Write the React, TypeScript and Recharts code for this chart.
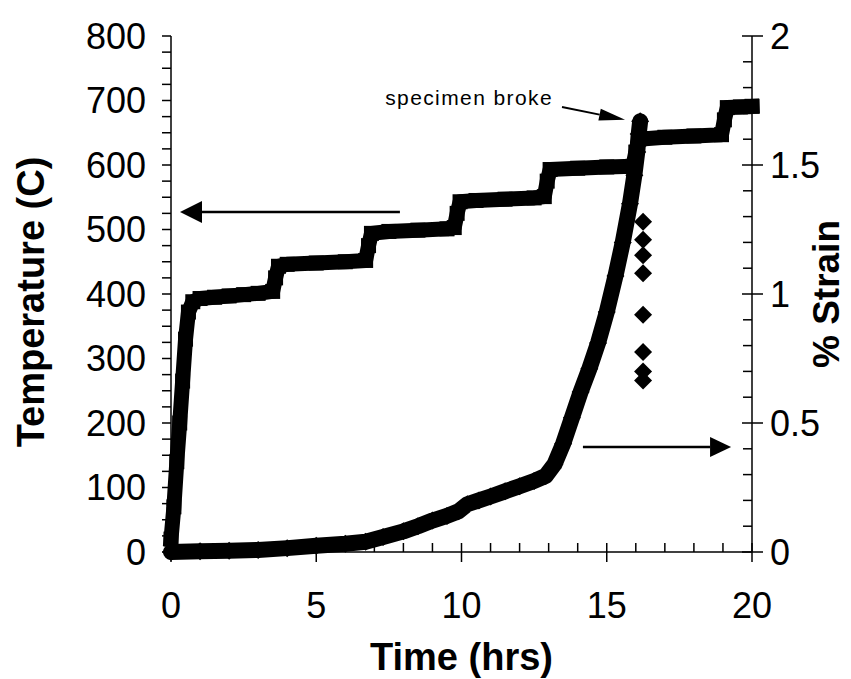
import React from 'react';
import { ComposedChart, Line, Scatter, XAxis, YAxis, ReferenceLine } from 'recharts';

// ---- data ----
const tempTime = [0, 0.1, 0.2, 0.3, 0.4, 0.5, 0.6, 0.75, 1.0, 1.5, 2.0, 2.5, 3.0, 3.5, 3.6, 3.7, 4.0, 5.0, 6.0, 6.7, 6.8, 6.9, 7.5, 8.5, 9.5, 9.75, 9.85, 9.95, 10.5, 11.5, 12.5, 12.85, 12.95, 13.05, 14.0, 15.0, 15.9, 16.0, 16.1, 17.0, 18.0, 18.95, 19.05, 19.15, 19.6, 20.0];
const tempValues = [20, 70, 140, 200, 265, 330, 372, 388, 393, 395, 397, 399, 401, 404, 425, 443, 446, 448, 450, 452, 475, 494, 497, 499, 501, 503, 525, 543, 545, 547, 549, 551, 575, 593, 595, 597, 598, 620, 640, 643, 645, 647, 670, 689, 690, 691];

const strainTime = [0, 1, 2, 3, 4, 5, 6, 6.7, 7.3, 8, 8.5, 9, 9.5, 9.9, 10.2, 10.6, 11, 11.5, 12, 12.5, 12.9, 13.2, 13.5, 13.8, 14.1, 14.4, 14.7, 15.0, 15.3, 15.55, 15.8, 15.95, 16.05, 16.1, 16.15];
const strainValues = [0, 0.003, 0.005, 0.008, 0.015, 0.024, 0.032, 0.04, 0.058, 0.08, 0.1, 0.122, 0.14, 0.158, 0.185, 0.2, 0.215, 0.235, 0.255, 0.275, 0.295, 0.34, 0.42, 0.52, 0.62, 0.71, 0.81, 0.93, 1.07, 1.2, 1.35, 1.46, 1.55, 1.62, 1.67];

const brokeTime = [16.25, 16.25, 16.25, 16.25, 16.25, 16.25, 16.25, 16.25];
const brokeStrain = [1.28, 1.21, 1.15, 1.08, 0.92, 0.775, 0.7, 0.665];

const xTicks = [0, 1, 2, 3, 4, 5, 6, 7, 8, 9, 10, 11, 12, 13, 14, 15, 16, 17, 18, 19, 20];
const xLabels = [0, 5, 10, 15, 20];
const tempTicks = [0, 25, 50, 75, 100, 125, 150, 175, 200, 225, 250, 275, 300, 325, 350, 375, 400, 425, 450, 475, 500, 525, 550, 575, 600, 625, 650, 675, 700, 725, 750, 775, 800];
const tempLabels = [0, 100, 200, 300, 400, 500, 600, 700, 800];
const strainTicks = [0, 0.1, 0.2, 0.3, 0.4, 0.5, 0.6, 0.7, 0.8, 0.9, 1, 1.1, 1.2, 1.3, 1.4, 1.5, 1.6, 1.7, 1.8, 1.9, 2];
const strainLabels = [0, 0.5, 1, 1.5, 2];

// annotation anchors (data units)
const leftArrow = { from: [7.88, 527], to: [0.31, 527] };
const rightArrow = { from: [14.18, 0.407], to: [19.28, 0.407] };
const brokeArrow = { from: [13.46, 690], to: [15.63, 670] };
const brokeText = 'specimen broke';

const tempData = tempTime.map((t, i) => ({ t, temp: tempValues[i] }));
const strainData = strainTime.map((t, i) => ({ t, strain: strainValues[i] }));
const brokeData = brokeTime.map((t, i) => ({ t, strain: brokeStrain[i] }));

// ---- layout ----
const W = 851;
const H = 679;
const PLOT_L = 171;
const PLOT_R = 752;
const PLOT_T = 36;
const PLOT_B = 552;
const FONT = 'Liberation Sans, Arial, Helvetica, sans-serif';

const LeftTick = (props: any) => {
  const { y, payload } = props;
  const v = payload.value;
  const showLabel = tempLabels.includes(v);
  return (
    <g>
      <line x1={PLOT_L - 9} x2={PLOT_L} y1={y} y2={y} stroke="#000" strokeWidth={1.5} />
      {showLabel && (
        <text x={146} y={y} dy="0.36em" textAnchor="end" fontSize={36} fontFamily={FONT} fill="#000">
          {v}
        </text>
      )}
    </g>
  );
};

const RightTick = (props: any) => {
  const { y, payload } = props;
  const v = payload.value;
  const showLabel = strainLabels.some((s) => Math.abs(s - v) < 1e-9);
  return (
    <g>
      <line x1={showLabel ? PLOT_R - 10 : PLOT_R - 9} x2={showLabel ? PLOT_R + 11 : PLOT_R} y1={y} y2={y} stroke="#000" strokeWidth={1.5} />
      {showLabel && (
        <text x={770} y={y} dy="0.36em" textAnchor="start" fontSize={36} fontFamily={FONT} fill="#000">
          {String(v)}
        </text>
      )}
    </g>
  );
};

const BottomTick = (props: any) => {
  const { x, payload } = props;
  const v = payload.value;
  const showLabel = xLabels.includes(v);
  return (
    <g>
      <line x1={x} x2={x} y1={PLOT_B - 9} y2={showLabel ? PLOT_B + 10 : PLOT_B} stroke="#000" strokeWidth={1.5} />
      {showLabel && (
        <text x={x} y={605} dy="0.36em" textAnchor="middle" fontSize={36} fontFamily={FONT} fill="#000">
          {v}
        </text>
      )}
    </g>
  );
};

const SquareDot = (props: any) => {
  const { cx, cy, index } = props;
  if (cx == null || cy == null) return <g key={`sq-${index}`} />;
  const s = 7.5;
  return <rect key={`sq-${index}`} x={cx - s} y={cy - s} width={2 * s} height={2 * s} fill="#000" />;
};

const DiamondDot = (props: any) => {
  const { cx, cy, index } = props;
  if (cx == null || cy == null) return <g key={`dm-${index}`} />;
  const s = 9;
  return (
    <polygon
      key={`dm-${index}`}
      points={`${cx},${cy - s} ${cx + s},${cy} ${cx},${cy + s} ${cx - s},${cy}`}
      fill="#000"
    />
  );
};

const DiamondShape = (props: any) => {
  const { cx, cy } = props;
  const s = 9;
  return <polygon points={`${cx},${cy - s} ${cx + s},${cy} ${cx},${cy + s} ${cx - s},${cy}`} fill="#000" />;
};

const makeArrow = (headLen: number, headHalf: number, width: number, label?: string) => (props: any) => {
  const { x1, y1, x2, y2 } = props;
  if ([x1, y1, x2, y2].some((v) => v == null || Number.isNaN(v))) return <g />;
  const dx = x2 - x1;
  const dy = y2 - y1;
  const len = Math.sqrt(dx * dx + dy * dy) || 1;
  const ux = dx / len;
  const uy = dy / len;
  const bx = x2 - ux * headLen;
  const by = y2 - uy * headLen;
  const px = -uy * headHalf;
  const py = ux * headHalf;
  return (
    <g>
      <line x1={x1} y1={y1} x2={bx} y2={by} stroke="#000" strokeWidth={width} />
      <polygon points={`${x2},${y2} ${bx + px},${by + py} ${bx - px},${by - py}`} fill="#000" />
      {label && (
        <text x={x1 - 9} y={y1 - 2} textAnchor="end" fontSize={21} letterSpacing={1.4} fontFamily={FONT} fill="#000">
          {label}
        </text>
      )}
    </g>
  );
};

const LeftTitle = (props: any) => {
  const vb = props.viewBox || { y: PLOT_T, height: PLOT_B - PLOT_T };
  const cy = vb.y + vb.height / 2 + 8;
  return (
    <text x={30} y={cy} transform={`rotate(-90 30 ${cy})`} textAnchor="middle" dy="0.36em" fontSize={38} fontWeight="bold" fontFamily={FONT} fill="#000">
      Temperature (C)
    </text>
  );
};

const RightTitle = (props: any) => {
  const vb = props.viewBox || { y: PLOT_T, height: PLOT_B - PLOT_T };
  const cy = vb.y + vb.height / 2;
  return (
    <text x={826} y={cy} transform={`rotate(-90 826 ${cy})`} textAnchor="middle" dy="0.36em" fontSize={37} fontWeight="bold" fontFamily={FONT} fill="#000">
      % Strain
    </text>
  );
};

const BottomTitle = (props: any) => {
  const vb = props.viewBox || { x: PLOT_L, width: PLOT_R - PLOT_L };
  const cx = vb.x + vb.width / 2;
  return (
    <text x={cx} y={656} dy="0.36em" textAnchor="middle" fontSize={38} fontWeight="bold" fontFamily={FONT} fill="#000">
      Time (hrs)
    </text>
  );
};

export default function App() {
  return (
    <div style={{ position: 'absolute', left: 0, top: 0, width: W, height: H, background: '#fff' }}>
      <ComposedChart
        width={W}
        height={H}
        margin={{ top: PLOT_T, right: 0, bottom: 0, left: 0 }}
        style={{ fontFamily: FONT }}
      >
        <XAxis
          type="number"
          dataKey="t"
          domain={[0, 20]}
          ticks={xTicks}
          interval={0}
          height={H - PLOT_B}
          tickLine={false}
          axisLine={{ stroke: '#000', strokeWidth: 1.5 }}
          tick={<BottomTick />}
          label={{ content: <BottomTitle /> }}
        />
        <YAxis
          yAxisId="temp"
          orientation="left"
          type="number"
          domain={[0, 800]}
          ticks={tempTicks}
          interval={0}
          width={PLOT_L}
          tickLine={false}
          axisLine={{ stroke: '#000', strokeWidth: 1.5 }}
          tick={<LeftTick />}
          label={{ content: <LeftTitle /> }}
        />
        <YAxis
          yAxisId="strain"
          orientation="right"
          type="number"
          domain={[0, 2]}
          ticks={strainTicks}
          interval={0}
          width={W - PLOT_R}
          tickLine={false}
          axisLine={{ stroke: '#000', strokeWidth: 1.5 }}
          tick={<RightTick />}
          label={{ content: <RightTitle /> }}
        />
        <Line
          yAxisId="temp"
          data={tempData}
          dataKey="temp"
          type="linear"
          stroke="#000"
          strokeWidth={15}
          strokeLinejoin="round"
          strokeLinecap="square"
          dot={<SquareDot />}
          activeDot={false}
          isAnimationActive={false}
        />
        <Line
          yAxisId="strain"
          data={strainData}
          dataKey="strain"
          type="linear"
          stroke="#000"
          strokeWidth={16}
          strokeLinejoin="round"
          strokeLinecap="round"
          dot={<DiamondDot />}
          activeDot={false}
          isAnimationActive={false}
        />
        <Scatter
          yAxisId="strain"
          data={brokeData}
          dataKey="strain"
          shape={<DiamondShape />}
          isAnimationActive={false}
        />
        <ReferenceLine
          yAxisId="temp"
          segment={[{ x: leftArrow.from[0], y: leftArrow.from[1] }, { x: leftArrow.to[0], y: leftArrow.to[1] }]}
          ifOverflow="visible"
          shape={makeArrow(22, 11, 2.5)}
        />
        <ReferenceLine
          yAxisId="strain"
          segment={[{ x: rightArrow.from[0], y: rightArrow.from[1] }, { x: rightArrow.to[0], y: rightArrow.to[1] }]}
          ifOverflow="visible"
          shape={makeArrow(21, 10, 2.5)}
        />
        <ReferenceLine
          yAxisId="temp"
          segment={[{ x: brokeArrow.from[0], y: brokeArrow.from[1] }, { x: brokeArrow.to[0], y: brokeArrow.to[1] }]}
          ifOverflow="visible"
          shape={makeArrow(26, 6, 2, brokeText)}
        />
      </ComposedChart>
    </div>
  );
}
